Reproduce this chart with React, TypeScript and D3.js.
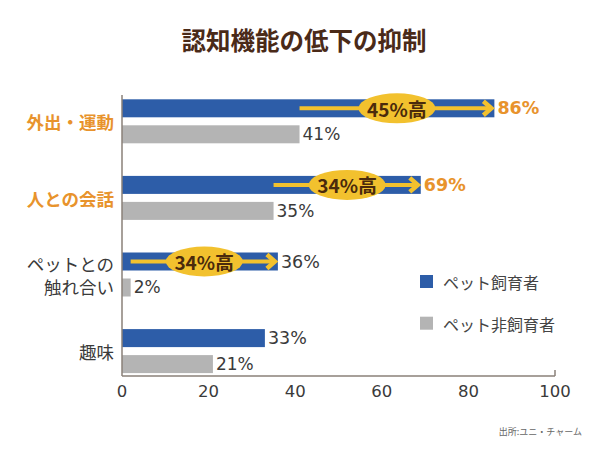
import React from "react";
import * as d3 from "d3";

const categories = ["外出・運動", "人との会話", "ペットとの\n触れ合い", "趣味"];
const seriesNames = ["ペット飼育者", "ペット非飼育者"];
const ownerValues = [86, 69, 36, 33];
const nonOwnerValues = [41, 35, 2, 21];
const highlightLabels = ["45%高", "34%高", "34%高", null];
const xTicks = [0, 20, 40, 60, 80, 100];
const title = "認知機能の低下の抑制";
const source = "出所:ユニ・チャーム";

const W = 600;
const H = 450;
const FONT = "'Noto Sans CJK JP', 'Noto Sans', sans-serif";
const NUMFONT = "'DejaVu Sans', 'Noto Sans', sans-serif";
const BLUE = "#2D5DA8";
const GRAY = "#B4B4B4";
const ORANGE = "#E8932C";
const DARK = "#3a3a3a";
const YELLOW = "#F2C12E";
const AXIS = "#8a8079";

export default function App() {
  const x = d3.scaleLinear().domain([0, 100]).range([122, 555]);
  const y = d3
    .scaleBand<string>()
    .domain(categories)
    .range([83, 389.4])
    .paddingInner(0.4256)
    .paddingOuter(0.2128);
  const inner = d3
    .scaleBand<string>()
    .domain(seriesNames)
    .range([0, y.bandwidth()])
    .paddingInner(0.3077)
    .paddingOuter(0);
  const bh = inner.bandwidth();
  const axisTop = 95;
  const axisY = 376;

  return (
    <svg width={W} height={H} style={{ display: "block", position: "absolute", left: 0, top: 0 }} fontFamily={FONT}>
      <rect width={W} height={H} fill="#fff" />
      <text x={304} y={50} textAnchor="middle" fontSize={24.5} fontWeight="bold" fill="#4a2a18">
        {title}
      </text>

      {categories.map((c, i) => {
        const y0 = y(c)!;
        const yb = y0 + inner(seriesNames[0])!;
        const yg = y0 + inner(seriesNames[1])!;
        const highlighted = highlightLabels[i] !== null;
        const lines = c.split("\n");
        const labelColor = i < 2 ? ORANGE : DARK;
        const midY = y0 + y.bandwidth() / 2;
        return (
          <g key={c}>
            <rect x={x(0)} y={yb} width={x(ownerValues[i]) - x(0)} height={bh} fill={BLUE} />
            <rect x={x(0)} y={yg} width={x(nonOwnerValues[i]) - x(0)} height={bh} fill={GRAY} />
            <text
              x={114}
              y={midY - ((lines.length - 1) * 23) / 2}
              textAnchor="end"
              dominantBaseline="central"
              fontSize={17.5}
              fontWeight={i < 2 ? "bold" : "normal"}
              fill={labelColor}
            >
              {lines.map((l, k) => (
                <tspan key={k} x={114} dy={k === 0 ? 0 : 23}>
                  {l}
                </tspan>
              ))}
            </text>
            <text
              x={x(ownerValues[i]) + 3}
              y={yb + bh / 2}
              dominantBaseline="central"
              fontSize={17.5}
              fontFamily={NUMFONT}
              fontWeight={i < 2 ? "bold" : "normal"}
              fill={i < 2 ? ORANGE : DARK}
            >
              {ownerValues[i]}%
            </text>
            <text
              x={x(nonOwnerValues[i]) + 3}
              y={yg + bh / 2}
              dominantBaseline="central"
              fontSize={17}
              fontFamily={NUMFONT}
              fill={DARK}
            >
              {nonOwnerValues[i]}%
            </text>
            {highlighted && (
              <g>
                <line
                  x1={x(nonOwnerValues[i])}
                  x2={x(ownerValues[i]) - 3}
                  y1={yb + bh / 2}
                  y2={yb + bh / 2}
                  stroke={YELLOW}
                  strokeWidth={4}
                />
                <polyline
                  points={`${x(ownerValues[i]) - 11},${yb + bh / 2 - 7} ${x(ownerValues[i]) - 3},${yb + bh / 2} ${x(ownerValues[i]) - 11},${yb + bh / 2 + 7}`}
                  fill="none"
                  stroke={YELLOW}
                  strokeWidth={4.5}
                />
                <ellipse
                  cx={x((ownerValues[i] + nonOwnerValues[i]) / 2)}
                  cy={yb + bh / 2}
                  rx={38.5}
                  ry={15}
                  fill={YELLOW}
                />
                <text
                  x={x((ownerValues[i] + nonOwnerValues[i]) / 2)}
                  y={yb + bh / 2}
                  textAnchor="middle"
                  dominantBaseline="central"
                  fontSize={19}
                  fontWeight="bold"
                  fill="#4a2a0c"
                >
                  {highlightLabels[i]}
                </text>
              </g>
            )}
          </g>
        );
      })}

      <line x1={x(0)} x2={x(0)} y1={axisTop} y2={axisY} stroke={AXIS} strokeWidth={1.5} />
      <line x1={x(0)} x2={x(100)} y1={axisY} y2={axisY} stroke={AXIS} strokeWidth={1.5} />
      <line x1={x(100)} x2={x(100)} y1={axisY - 6} y2={axisY} stroke={AXIS} strokeWidth={1.5} />
      {xTicks.map((t) => (
        <text key={t} x={x(t)} y={391} textAnchor="middle" dominantBaseline="central" fontSize={16.5} fontFamily={NUMFONT} fill={DARK}>
          {t}
        </text>
      ))}

      {seriesNames.map((s, i) => (
        <g key={s} transform={`translate(420, ${275 + i * 41.7})`}>
          <rect width={13} height={13} fill={i === 0 ? BLUE : GRAY} />
          <text x={23} y={7} dominantBaseline="central" fontSize={16} fill="#444">
            {s}
          </text>
        </g>
      ))}

      <text x={582} y={431} textAnchor="end" dominantBaseline="central" fontSize={9} fill="#666">
        {source}
      </text>
    </svg>
  );
}
